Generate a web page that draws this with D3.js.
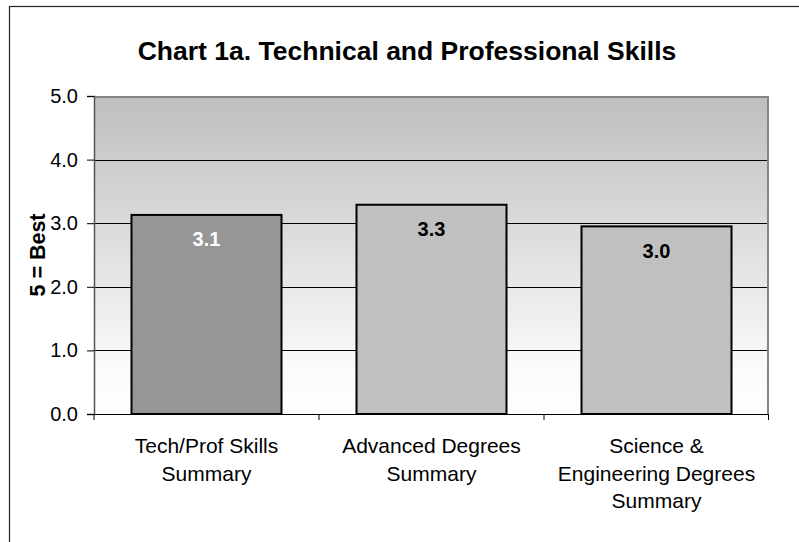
<!DOCTYPE html>
<html>
<head>
<meta charset="utf-8">
<script src="https://cdn.jsdelivr.net/npm/d3@7"></script>
<style>
  body { margin: 0; background: #fff; }
  text { font-family: "Liberation Sans", Arial, sans-serif; }
</style>
</head>
<body>
<div class="canva"></div>
<script>
// data
const categories = ['Tech/Prof Skills Summary', 'Advanced Degrees Summary', 'Science & Engineering Degrees Summary'];
const catLines = [['Tech/Prof Skills', 'Summary'], ['Advanced Degrees', 'Summary'], ['Science &', 'Engineering Degrees', 'Summary']];
const values = [3.13, 3.29, 2.95];
const valueLabels = ['3.1', '3.3', '3.0'];
const yTicks = [0, 1, 2, 3, 4, 5];

const barFill = ['#969696', '#c0c0c0', '#c0c0c0'];
const labelFill = ['#ffffff', '#000000', '#000000'];

const width = 799, height = 542;
const margin = {top: 96, right: 30, bottom: 128, left: 94};
const graphWidth = 769 - margin.left;
const graphHeight = 414 - margin.top;

const svg = d3.select('.canva').append('svg')
              .attr('width', width)
              .attr('height', height);

// outer chart border (cropped on right/bottom)
svg.append('rect')
   .attr('x', 9.5).attr('y', 6.5)
   .attr('width', 820).attr('height', 560)
   .attr('fill', '#fff')
   .attr('stroke', '#222')
   .attr('stroke-width', 1.2);

// title
svg.append('text')
   .attr('x', 407).attr('y', 60)
   .attr('text-anchor', 'middle')
   .attr('font-size', 26.5)
   .attr('font-weight', 'bold')
   .text('Chart 1a. Technical and Professional Skills');

// gradient for plot area
const defs = svg.append('defs');
const grad = defs.append('linearGradient')
                 .attr('id', 'bg').attr('x1', 0).attr('y1', 0).attr('x2', 0).attr('y2', 1);
grad.append('stop').attr('offset', '0%').attr('stop-color', '#bebebe');
grad.append('stop').attr('offset', '85%').attr('stop-color', '#fafafa');
grad.append('stop').attr('offset', '100%').attr('stop-color', '#ffffff');

const graph = svg.append('g')
                 .attr('transform', `translate(${margin.left}, ${margin.top})`);

const y = d3.scaleLinear().domain([0, 5]).range([graphHeight, 0]);
const x = d3.scaleBand()
            .domain(categories)
            .range([0, graphWidth])
            .paddingInner(1 / 3)
            .paddingOuter(1 / 6);

graph.append('rect')
     .attr('width', graphWidth).attr('height', graphHeight)
     .attr('fill', 'url(#bg)');

// gridlines
graph.selectAll('line.grid')
     .data(yTicks.filter(d => d > 0 && d < 5))
     .enter().append('line')
     .attr('class', 'grid')
     .attr('x1', 0).attr('x2', graphWidth)
     .attr('y1', d => Math.round(y(d)) + 0.5)
     .attr('y2', d => Math.round(y(d)) + 0.5)
     .attr('stroke', '#000')
     .attr('stroke-width', 1);

// plot frame (top & right)
graph.append('path')
     .attr('d', `M0,1 H${graphWidth - 1} V${graphHeight}`)
     .attr('fill', 'none')
     .attr('stroke', '#858585')
     .attr('stroke-width', 2);

// bars
graph.selectAll('rect.bar')
     .data(values)
     .enter().append('rect')
     .attr('class', 'bar')
     .attr('x', (d, i) => x(categories[i]))
     .attr('y', d => y(d))
     .attr('width', x.bandwidth())
     .attr('height', d => graphHeight - y(d))
     .attr('fill', (d, i) => barFill[i])
     .attr('stroke', '#000')
     .attr('stroke-width', 2);

// value labels
graph.selectAll('text.val')
     .data(values)
     .enter().append('text')
     .attr('class', 'val')
     .attr('x', (d, i) => x(categories[i]) + x.bandwidth() / 2)
     .attr('y', d => y(d) + 31.5)
     .attr('text-anchor', 'middle')
     .attr('font-size', 20)
     .attr('font-weight', 'bold')
     .attr('fill', (d, i) => labelFill[i])
     .text((d, i) => valueLabels[i]);

// y axis
const yAxis = d3.axisLeft(y)
                .tickValues(yTicks)
                .tickFormat(d3.format('.1f'))
                .tickSize(7)
                .tickPadding(9);
const yAxisGroup = graph.append('g').call(yAxis);
yAxisGroup.select('.domain').attr('stroke', '#555').attr('stroke-width', 1.5);
yAxisGroup.selectAll('.tick line').attr('stroke', '#000');
yAxisGroup.selectAll('.tick text')
          .attr('font-size', 20)
          .attr('font-family', '"Liberation Sans", Arial, sans-serif')
          .attr('fill', '#000');

// x axis line and boundary ticks
graph.append('line')
     .attr('x1', 0).attr('x2', graphWidth)
     .attr('y1', graphHeight + 0.5).attr('y2', graphHeight + 0.5)
     .attr('stroke', '#000');
graph.selectAll('line.xtick')
     .data(d3.range(categories.length + 1))
     .enter().append('line')
     .attr('class', 'xtick')
     .attr('x1', i => Math.min(i * x.step(), graphWidth - 0.5))
     .attr('x2', i => Math.min(i * x.step(), graphWidth - 0.5))
     .attr('y1', graphHeight).attr('y2', graphHeight + 6)
     .attr('stroke', '#000');

// category labels
const catGroup = graph.selectAll('text.cat')
     .data(categories)
     .enter().append('text')
     .attr('class', 'cat')
     .attr('text-anchor', 'middle')
     .attr('font-size', 21)
     .attr('fill', '#000');
catGroup.selectAll('tspan')
        .data((d, i) => catLines[i].map(t => ({t, c: d})))
        .enter().append('tspan')
        .attr('x', d => x(d.c) + x.bandwidth() / 2)
        .attr('y', (d, j) => graphHeight + 39 + j * 27.5)
        .text(d => d.t);

// y axis title
svg.append('text')
   .attr('transform', `translate(45, ${margin.top + graphHeight / 2}) rotate(-90)`)
   .attr('text-anchor', 'middle')
   .attr('font-size', 21.5)
   .attr('font-weight', 'bold')
   .text('5 = Best');
</script>
</body>
</html>
